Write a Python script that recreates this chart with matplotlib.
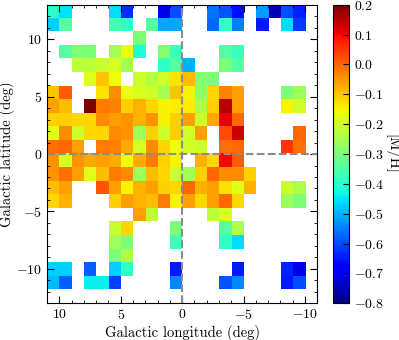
import numpy as np
import matplotlib.pyplot as plt
from matplotlib.ticker import MultipleLocator

na = np.nan

# mean metallicity per 1 deg x (26/22) deg cell, top row first,
# columns run from l = +11 (left) to l = -11 (right)
metallicity_rows = [
    [-0.40, -0.45, na, na, na, -0.46, -0.63, na, na, -0.71, -0.60, na, na, -0.56, -0.59, -0.66, na, -0.52, -0.75, -0.60, -0.64, na],
    [-0.47, -0.34, na, na, na, -0.37, -0.39, na, -0.35, -0.51, -0.51, na, na, -0.57, -0.39, -0.55, na, -0.65, na, -0.46, -0.62, na],
    [na, na, na, na, na, na, na, -0.30, na, na, na, na, na, na, na, na, na, na, na, na, na, na],
    [na, -0.35, -0.29, -0.30, na, -0.25, -0.17, -0.41, na, -0.29, -0.38, na, na, na, -0.35, -0.38, na, na, na, na, na, na],
    [na, na, -0.22, -0.22, -0.21, -0.19, -0.25, na, na, -0.39, -0.35, -0.50, na, na, -0.30, -0.35, na, na, na, na, na, na],
    [na, na, na, -0.18, -0.10, -0.16, na, -0.20, -0.23, -0.20, -0.13, -0.09, -0.29, -0.30, na, na, na, na, na, na, na, na],
    [-0.10, 0.01, na, na, -0.13, -0.04, -0.17, -0.19, -0.20, -0.25, -0.10, -0.15, -0.28, -0.12, -0.03, -0.06, na, na, na, -0.30, -0.26, na],
    [-0.06, -0.09, na, 0.20, -0.02, -0.03, -0.11, -0.08, -0.12, -0.15, -0.14, -0.14, -0.24, -0.11, 0.15, -0.06, na, na, na, -0.15, -0.20, na],
    [-0.11, -0.11, -0.12, -0.12, -0.04, -0.06, -0.05, -0.08, -0.05, -0.15, -0.11, -0.06, -0.20, -0.07, 0.11, 0.00, na, na, na, na, na, na],
    [-0.18, -0.04, -0.20, -0.12, -0.12, -0.04, -0.05, -0.26, -0.11, -0.20, -0.11, -0.20, -0.06, na, 0.03, 0.13, na, na, na, na, 0.00, na],
    [-0.01, 0.00, -0.06, na, -0.02, -0.03, -0.07, -0.19, -0.04, -0.12, -0.16, -0.20, -0.20, na, -0.01, 0.00, na, na, na, 0.05, -0.01, na],
    [-0.05, -0.19, -0.05, -0.07, -0.06, -0.07, -0.16, -0.07, -0.02, -0.11, -0.15, na, -0.08, -0.12, 0.10, 0.01, na, na, na, na, na, na],
    [-0.05, -0.01, -0.06, -0.18, -0.09, -0.02, -0.04, -0.26, -0.09, -0.12, -0.21, -0.25, -0.11, 0.00, -0.04, -0.04, -0.11, na, na, na, na, na],
    [-0.09, -0.06, na, na, 0.02, -0.06, -0.15, -0.08, -0.06, -0.11, -0.12, 0.00, -0.08, -0.06, -0.13, -0.18, -0.08, na, na, -0.21, -0.24, na],
    [-0.12, -0.08, na, na, na, -0.11, -0.06, -0.08, -0.09, -0.02, -0.15, -0.06, -0.12, -0.06, 0.00, -0.12, na, na, na, -0.26, -0.30, na],
    [na, na, na, na, na, na, na, -0.06, -0.22, na, na, na, na, -0.22, -0.19, na, na, na, na, na, na, na],
    [na, na, na, na, na, -0.21, -0.12, na, na, na, -0.30, na, na, na, -0.35, -0.24, na, na, na, na, na, na],
    [na, na, na, na, na, -0.26, -0.30, na, na, na, -0.37, na, na, na, -0.39, -0.46, na, na, na, na, na, na],
    [na, na, na, na, na, -0.30, -0.24, na, na, na, na, na, na, na, na, na, na, na, na, na, na, na],
    [-0.47, -0.47, na, -0.58, na, -0.47, -0.39, na, na, na, -0.65, na, na, na, na, -0.65, na, na, na, -0.64, -0.71, na],
    [-0.49, -0.58, na, -0.44, -0.44, -0.61, na, na, na, na, -0.54, na, na, na, -0.59, -0.54, na, na, na, -0.65, -0.60, na],
    [na, na, na, na, na, na, na, na, na, na, na, na, na, na, na, na, na, na, na, na, na, na],
]

longitude_range = [11, -11]
latitude_range = [-13, 13]
colorbar_ticks = [-0.8, -0.7, -0.6, -0.5, -0.4, -0.3, -0.2, -0.1, 0.0, 0.1, 0.2]

metallicity = np.array(metallicity_rows, dtype=float)

plt.rcParams["font.family"] = "serif"
plt.rcParams["font.serif"] = ["cmr10"]
plt.rcParams["mathtext.fontset"] = "cm"
plt.rcParams["axes.formatter.use_mathtext"] = True
plt.rcParams["font.size"] = 10

fig = plt.figure(figsize=(3.99, 3.40), dpi=100)
ax = fig.add_axes([0.118, 0.108, 0.677, 0.878])
cax = fig.add_axes([0.835, 0.108, 0.040, 0.878])

image = ax.imshow(
    metallicity,
    cmap="jet",
    vmin=-0.8,
    vmax=0.2,
    interpolation="nearest",
    aspect="auto",
    extent=[longitude_range[0], longitude_range[1], latitude_range[0], latitude_range[1]],
)

ax.axvline(0, color="0.55", linestyle="--", linewidth=1.5)
ax.axhline(0, color="0.55", linestyle="--", linewidth=1.5)

ax.set_xlim(longitude_range[0], longitude_range[1])
ax.set_ylim(latitude_range[0], latitude_range[1])
ax.xaxis.set_major_locator(MultipleLocator(5))
ax.xaxis.set_minor_locator(MultipleLocator(1))
ax.yaxis.set_major_locator(MultipleLocator(5))
ax.yaxis.set_minor_locator(MultipleLocator(1))
ax.tick_params(which="both", direction="in", top=True, right=True)
ax.tick_params(which="major", length=5)
ax.tick_params(which="minor", length=2.5)

ax.set_xlabel("Galactic longitude (deg)", fontsize=10.5, labelpad=2)
ax.set_ylabel("Galactic latitude (deg)", fontsize=10.5, labelpad=1)

colorbar = fig.colorbar(image, cax=cax, ticks=colorbar_ticks)
colorbar.ax.tick_params(direction="in", length=4)
colorbar.set_label("[M/H]", fontsize=10.5, rotation=270, labelpad=11)

fig.savefig("out.png", dpi=100)
